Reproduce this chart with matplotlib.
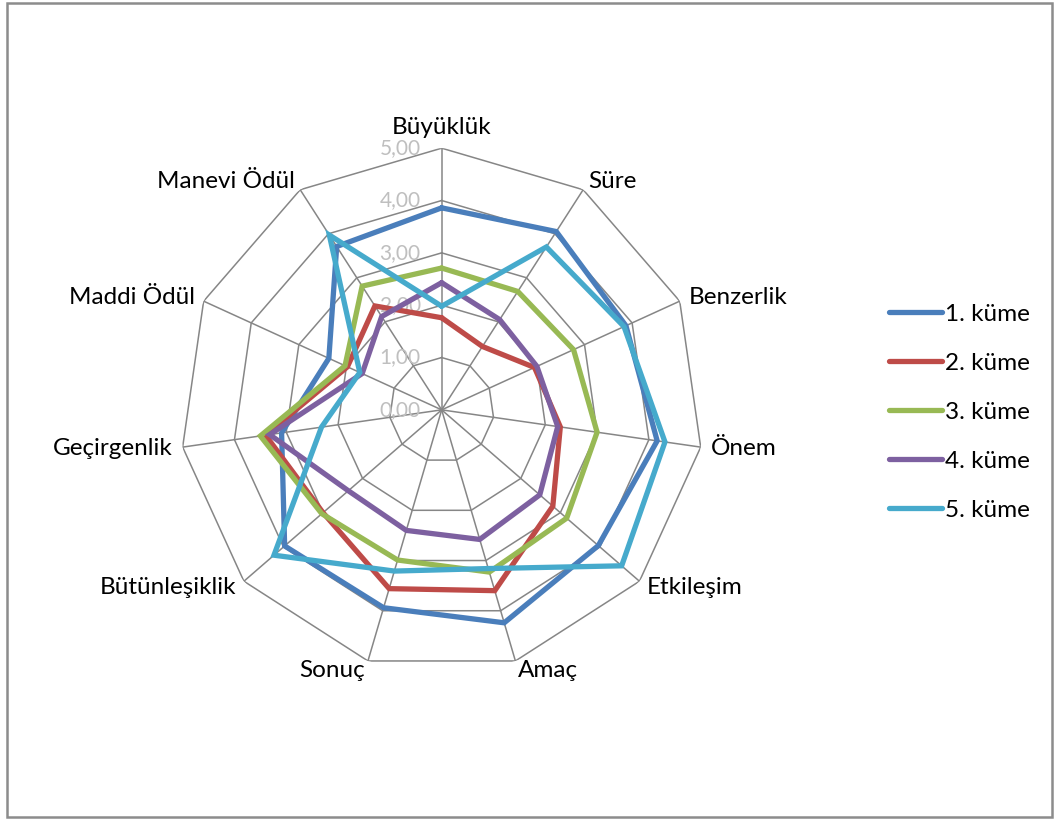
import numpy as np
import matplotlib
matplotlib.use('Agg')
import matplotlib.pyplot as plt
from matplotlib.transforms import offset_copy
from matplotlib.patches import Rectangle

plt.rcParams['font.family'] = ['Lato', 'DejaVu Sans']

categories = ['Büyüklük', 'Süre', 'Benzerlik', 'Önem', 'Etkileşim', 'Amaç',
              'Sonuç', 'Bütünleşiklik', 'Geçirgenlik', 'Maddi Ödül', 'Manevi Ödül']
kume1 = [3.86, 4.05, 3.87, 4.16, 3.96, 4.24, 3.94, 3.97, 3.09, 2.37, 3.71]
kume2 = [1.76, 1.44, 1.95, 2.29, 2.81, 3.60, 3.56, 3.00, 3.40, 1.98, 2.36]
kume3 = [2.71, 2.69, 2.77, 3.00, 3.16, 3.23, 2.99, 3.03, 3.50, 2.03, 2.81]
kume4 = [2.43, 2.05, 2.00, 2.24, 2.48, 2.58, 2.40, 2.36, 3.32, 1.67, 2.12]
kume5 = [1.98, 3.70, 3.83, 4.31, 4.55, 3.16, 3.21, 4.24, 2.32, 1.72, 3.97]
series_names = ['1. küme', '2. küme', '3. küme', '4. küme', '5. küme']
ticks = [0, 1, 2, 3, 4, 5]
tick_labels = ['0,00', '1,00', '2,00', '3,00', '4,00', '5,00']

colors = ['#4A7EBB', '#BE4B48', '#98B954', '#7D60A0', '#46AACC']

fig = plt.figure(figsize=(10.55, 8.19), dpi=100)
ax = fig.add_axes([0.1706, 0.1800, 0.4961, 0.6391], projection='polar')
ax.set_theta_offset(np.pi / 2)
ax.set_theta_direction(-1)
ax.set_ylim(0, 5)
ax.grid(False)
ax.spines['polar'].set_visible(False)
ax.set_xticks([])
ax.set_yticks([])
ax.patch.set_alpha(0)

n = len(categories)
angles = np.linspace(0, 2 * np.pi, n, endpoint=False)
closed = np.append(angles, angles[0])

# polygon grid like excel
grid_col = '#868686'
for t in ticks[1:]:
    ax.plot(closed, [t] * (n + 1), color=grid_col, lw=1.1, zorder=1)
for a in angles:
    ax.plot([a, a], [0, 5], color=grid_col, lw=1.1, zorder=1)

for vals, name, col in zip([kume1, kume2, kume3, kume4, kume5], series_names, colors):
    ax.plot(closed, vals + vals[:1], color=col, lw=3.8, label=name, zorder=3,
            solid_joinstyle='miter', solid_capstyle='round')

# value labels on the vertical axis
tr = offset_copy(ax.transData, fig=fig, x=-21, y=0, units='dots')
for t, lab in zip(ticks, tick_labels):
    ax.text(0, t, lab, transform=tr, ha='right', va='center', fontsize=15,
            color='#BFBFBF', zorder=2)

# category labels
for a, cat in zip(angles, categories):
    dx, dy = np.sin(a), np.cos(a)
    trc = offset_copy(ax.transData, fig=fig, x=10 * dx, y=10 * dy, units='dots')
    if dx > 0.1:
        ha = 'left'
    elif dx < -0.1:
        ha = 'right'
    else:
        ha = 'center'
    va = 'bottom' if dy > 0.9 else 'center'
    ax.text(a, 5, cat, transform=trc, ha=ha, va=va, fontsize=17.5)

leg = fig.legend(loc='upper left', bbox_to_anchor=(0.833, 0.641), frameon=False,
                 fontsize=17.5, handlelength=2.2, handletextpad=0.12,
                 labelspacing=1.15, borderaxespad=0)

fig.patches.append(Rectangle((7 / 1055, 2 / 819), 1045 / 1055, 814 / 819,
                             transform=fig.transFigure, fill=False,
                             edgecolor='#8C8C8C', lw=1.8))

fig.savefig('out.png', dpi=100)
